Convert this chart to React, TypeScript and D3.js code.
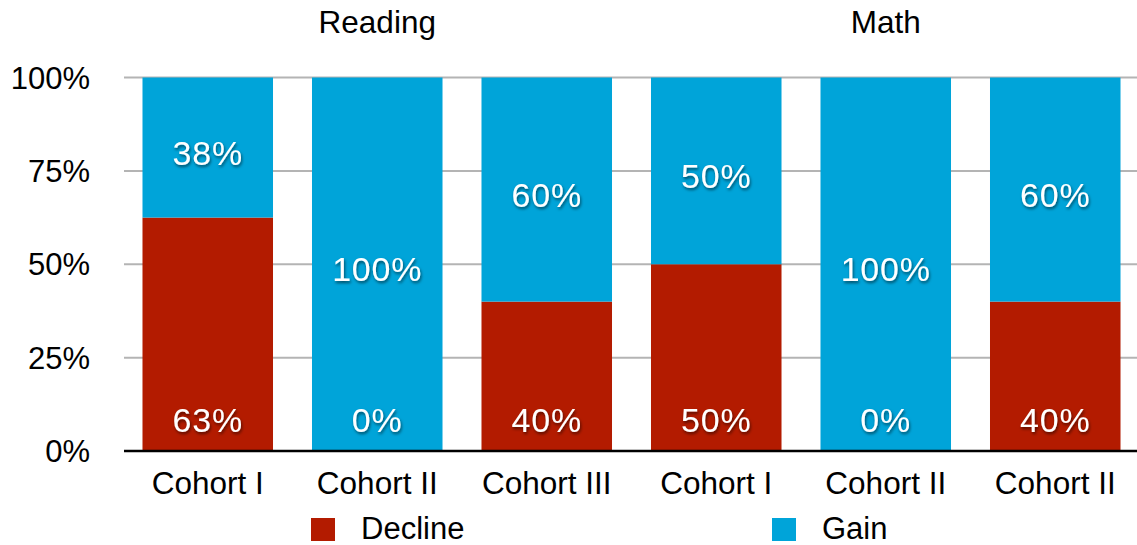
import React from "react";
import * as d3 from "d3";

const categories = ["Cohort I", "Cohort II", "Cohort III", "Cohort I", "Cohort II", "Cohort II"];
const groups = ["Reading", "Math"];
const groupOf = [0, 0, 0, 1, 1, 1];
const decline = [62.5, 0, 40, 50, 0, 40];
const gain = [37.5, 100, 60, 50, 100, 60];
const yTicks = [0, 25, 50, 75, 100];
const seriesNames = ["Decline", "Gain"];

const W = 1137;
const H = 545;
const RED = "#B31B00";
const BLUE = "#00A4D9";
const FONT = "'Liberation Sans', Helvetica, Arial, sans-serif";

export default function App() {
  const idx = categories.map((_, i) => String(i));
  const x = d3.scaleBand<string>().domain(idx).range([123, 1140]).paddingInner(0.23).paddingOuter(0.115);
  const y = d3.scaleLinear().domain([0, 100]).range([451, 77.5]);
  const bw = x.bandwidth();

  const groupCenters = groups.map((_, g) => {
    const members = idx.filter((_, i) => groupOf[i] === g);
    const xs = members.map((m) => (x(m) as number) + bw / 2);
    return d3.mean(xs) as number;
  });

  return (
    <svg width={W} height={H} style={{ position: "absolute", left: 0, top: 0 }} fontFamily={FONT}>
      <defs>
        <filter id="ts" x="-20%" y="-30%" width="140%" height="160%">
          <feDropShadow dx="1" dy="2" stdDeviation="1.5" floodColor="#000" floodOpacity="0.55" />
        </filter>
      </defs>
      <rect width={W} height={H} fill="#fff" />
      {yTicks.map((t) => (
        <g key={t}>
          {t > 0 && <line x1={124} x2={W} y1={y(t)} y2={y(t)} stroke="#b4b4b4" strokeWidth={2} />}
          <text x={90} y={y(t)} dy="0.36em" textAnchor="end" fontSize={31} fill="#000">
            {t}%
          </text>
        </g>
      ))}
      {idx.map((k, i) => {
        const x0 = x(k) as number;
        return (
          <g key={k}>
            <rect x={x0} y={y(decline[i])} width={bw} height={y(0) - y(decline[i])} fill={RED} />
            <rect x={x0} y={y(decline[i] + gain[i])} width={bw} height={y(decline[i]) - y(decline[i] + gain[i])} fill={BLUE} />
          </g>
        );
      })}
      <line x1={124} x2={W} y1={451} y2={451} stroke="#000" strokeWidth={2.5} />
      {idx.map((k, i) => {
        const cx = (x(k) as number) + bw / 2;
        const gMid = (y(decline[i]) + y(decline[i] + gain[i])) / 2;
        return (
          <g key={"l" + k} filter="url(#ts)" fill="#fff" fontSize={34} letterSpacing={0.8} textAnchor="middle">
            <text x={cx} y={gMid + 5} dy="0.36em">{Math.round(gain[i])}%</text>
            <text x={cx} y={y(0) - 31} dy="0.36em">{Math.round(decline[i])}%</text>
          </g>
        );
      })}
      {idx.map((k, i) => (
        <text key={"c" + k} x={(x(k) as number) + bw / 2} y={483} dy="0.36em" textAnchor="middle" fontSize={31.5} fill="#000">
          {categories[i]}
        </text>
      ))}
      {groups.map((g, j) => (
        <text key={g} x={groupCenters[j]} y={22} dy="0.36em" textAnchor="middle" fontSize={31.5} fill="#000">
          {g}
        </text>
      ))}
      {seriesNames.map((s, j) => {
        const lx = j === 0 ? 311 : 772;
        return (
          <g key={s}>
            <rect x={lx} y={518} width={24} height={23} fill={j === 0 ? RED : BLUE} />
            <text x={lx + 50} y={538.5} fontSize={31} fill="#000">{s}</text>
          </g>
        );
      })}
    </svg>
  );
}
